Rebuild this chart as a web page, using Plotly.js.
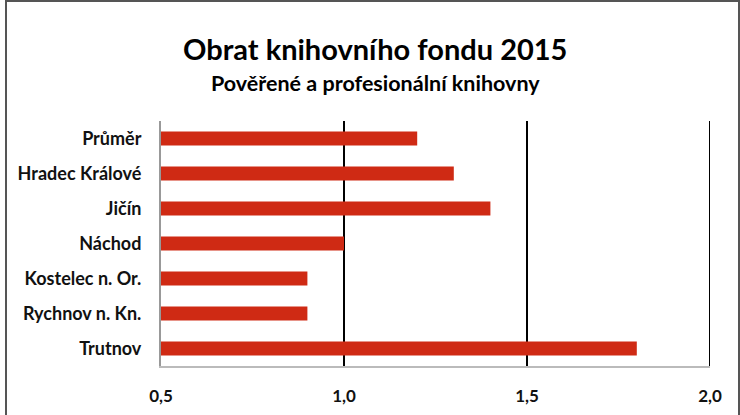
<!DOCTYPE html>
<html><head><meta charset="utf-8">
<script src="https://cdn.plot.ly/plotly-3.0.1.min.js"></script>
<style>
html,body{margin:0;padding:0;background:#fff;}
#wrap{position:relative;width:740px;height:415px;overflow:hidden;}
#frame{position:absolute;left:5px;top:0px;width:731px;height:430px;border:2px solid #555;pointer-events:none;}
#chart{position:absolute;left:0;top:0;width:740px;height:415px;}
</style></head>
<body><div id="wrap"><div id="chart"></div><div id="frame"></div></div>
<script>
const categories = ["Průměr","Hradec Králové","Jičín","Náchod","Kostelec n. Or.","Rychnov n. Kn.","Trutnov"];
const values = [1.2, 1.3, 1.4, 1.0, 0.9, 0.9, 1.8];
const tickVals = [0.5, 1.0, 1.5, 2.0];
const tickText = ["0,5","1,0","1,5","2,0"];
const titleText = "Obrat knihovního fondu 2015";
const subtitleText = "Pověřené a profesionální knihovny";

const font = "Lato, 'Open Sans', sans-serif";
const gridLines = tickVals.slice(1).map(v => ({
  type: 'line', xref: 'x', yref: 'paper', x0: v, x1: v, y0: 0, y1: 1,
  line: {color: '#000', width: 2}, layer: 'below'
}));
Plotly.newPlot('chart', [{
  type: 'bar', orientation: 'h',
  y: categories, x: values, base: 0,
  marker: {color: '#CF2A14'},
  hoverinfo: 'none'
}], {
  width: 740, height: 415,
  margin: {l: 161, r: 30, t: 121, b: 49},
  paper_bgcolor: '#fff', plot_bgcolor: '#fff',
  bargap: 0.6,
  showlegend: false,
  shapes: gridLines,
  xaxis: {
    range: [0.5, 2.0], tickvals: tickVals, ticktext: tickText.map(t => '<b>' + t + '</b>'),
    showgrid: false,
    showline: true, linecolor: '#bbb', linewidth: 2,
    zeroline: false, ticks: '', ticklen: 0, ticklabelstandoff: 14,
    tickfont: {family: font, size: 17, color: '#111', weight: 'bold'},
    fixedrange: true
  },
  yaxis: {
    autorange: 'reversed', type: 'category',
    showgrid: false, zeroline: false,
    showline: true, linecolor: '#999', linewidth: 2,
    ticks: '', ticklabelstandoff: 14,
    tickfont: {family: font, size: 18, color: '#111', weight: 'bold'},
    fixedrange: true
  },
  annotations: [
    {text: '<b>' + titleText + '</b>', xref: 'paper', yref: 'paper', x: 0.5, y: 0, xanchor: 'center', yanchor: 'middle', showarrow: false,
     font: {family: font, size: 29, color: '#000'}},
    {text: '<b>' + subtitleText + '</b>', xref: 'paper', yref: 'paper', x: 0.5, y: 0, xanchor: 'center', yanchor: 'middle', showarrow: false,
     font: {family: font, size: 21.5, color: '#000'}}
  ]
}, {displayModeBar: false, staticPlot: true}).then(function(gd){
  const ph = 415 - 121 - 49;
  const pw = 740 - 161 - 30;
  const toY = py => (415 - 49 - py) / ph;
  const toX = px => (px - 161) / pw;
  Plotly.relayout(gd, {
    'annotations[0].x': toX(375), 'annotations[0].y': toY(48),
    'annotations[1].x': toX(375), 'annotations[1].y': toY(83)
  });
});
</script></body></html>
